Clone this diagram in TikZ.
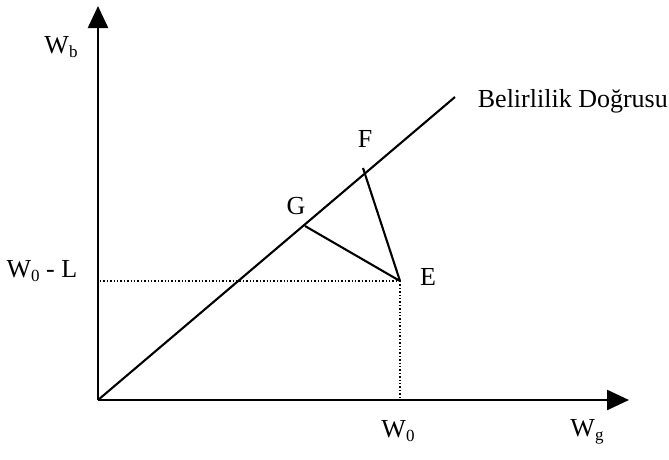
\documentclass[tikz,border=0pt]{standalone}
\usepackage{fontspec}
\setmainfont{Liberation Serif}
\usetikzlibrary{arrows.meta}
\tikzset{
  axis/.style={line width=2.4pt, -{Triangle[length=22pt,width=20pt]}},
  solidline/.style={line width=2.1pt},
  guide/.style={line width=1.4pt, dotted},
  lbl/.style={inner sep=0pt, font=\fontsize{26}{30}\selectfont},
}
\newcommand{\sub}[1]{\raisebox{-0.3ex}{\fontsize{17}{19}\selectfont #1}}
\begin{document}
\begin{tikzpicture}[x=1pt,y=1pt]
\useasboundingbox (0,0) rectangle (669,-459);
\coordinate (O) at (98,-400);
\coordinate (Ytop) at (98,-6);
\coordinate (Xend) at (629,-400);
\coordinate (Lend) at (455,-97);
\coordinate (E) at (400,-281);
\coordinate (Ey) at (100,-281);
\coordinate (Ex) at (400,-400);
\coordinate (G) at (305,-226);
\coordinate (F) at (363,-168);
% axes
\draw[axis] (O) -- (Ytop);
\draw[axis] (O) -- (Xend);
% certainty line
\draw[solidline] (O) -- (Lend);
% guides
\draw[guide] (Ey) -- (E);
\draw[guide] (E) -- (Ex);
% segments
\draw[solidline] (E) -- (G);
\draw[solidline] (E) -- (F);
% labels
\node[lbl] (lWb) at (61,-47) {W\sub{b}};
\node[lbl] (lW0L) at (42,-271) {W\sub{0} - L};
\node[lbl] (lG) at (296,-206) {G};
\node[lbl] (lF) at (365,-139) {F};
\node[lbl] (lE) at (428,-277) {E};
\node[lbl] (lW0) at (398,-431) {W\sub{0}};
\node[lbl] (lWg) at (587,-432) {W\sub{g}};
\node[lbl, anchor=east] (lLine) at (668,-101) {Belirlilik Doğrusu};
\end{tikzpicture}
\end{document}
